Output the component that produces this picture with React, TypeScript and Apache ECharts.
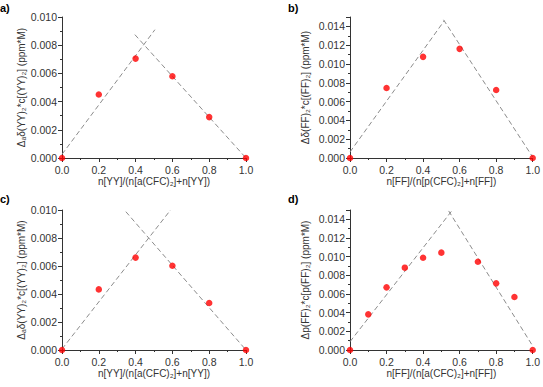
import React, { useEffect, useRef } from "react";
import * as echarts from "echarts";

// ---- data ----
const ptsA: number[][] = [[0, 0], [0.2, 0.0045], [0.4, 0.00705], [0.6, 0.0058], [0.8, 0.0029], [1.0, 0]];
const fitA1: number[][] = [[0, 0.00026], [0.505, 0.0091]];
const fitA2: number[][] = [[0.396, 0.00875], [1.0, 0]];

const ptsB: number[][] = [[0, 0], [0.2, 0.00745], [0.4, 0.01076], [0.6, 0.01161], [0.8, 0.00723], [1.0, 0]];
const fitB1: number[][] = [[0, 0.00064], [0.516, 0.0146]];
const fitB2: number[][] = [[0.512, 0.0147], [1.0, 0.0001]];

const ptsC: number[][] = [[0, 0], [0.2, 0.00433], [0.4, 0.0066], [0.6, 0.00602], [0.8, 0.00336], [1.0, 0]];
const fitC1: number[][] = [[0, 0.00007], [0.59, 0.01]];
const fitC2: number[][] = [[0.347, 0.00988], [1.0, 0]];

const ptsD: number[][] = [[0, 0], [0.1, 0.00382], [0.2, 0.00671], [0.3, 0.00882], [0.4, 0.00989], [0.5, 0.01043], [0.7, 0.00946], [0.8, 0.00714], [0.9, 0.00568], [1.0, 0]];
const fitD1: number[][] = [[0, 0.00089], [0.558, 0.01493]];
const fitD2: number[][] = [[0.54, 0.0149], [1.0, 0.00043]];

const panelLabels = ["a)", "b)", "c)", "d)"];
const xTitles = [
  "n[YY]/(n[a(CFC)₂]+n[YY])",
  "n[FF]/(n[p(CFC)₂]+n[FF])",
  "n[YY]/(n[a(CFC)₂]+n[YY])",
  "n[FF]/(n[a(CFC)₂]+n[FF])",
];
const yTitles = [
  "Δₐδ(YY)₂*c[(YY)₂] (ppm*M)",
  "Δδ(FF)₂*c[(FF)₂] (ppm*M)",
  "Δₐδ(YY)₂*c[(YY)₂] (ppm*M)",
  "Δp(FF)₂*c[p(FF)₂] (ppm*M)",
];
const yMax = [0.01, 0.015, 0.01, 0.015];

const FONT = "'Liberation Sans', Arial, sans-serif";
const TXT = "#333333";

export default function App() {
  const ref = useRef<HTMLDivElement>(null);
  useEffect(() => {
    if (!ref.current) return;
    const chart = echarts.init(ref.current, undefined, { renderer: "svg" });
    const grids = [
      { left: 62, top: 17, width: 184, height: 141 },
      { left: 350, top: 17, width: 185, height: 141 },
      { left: 62, top: 210, width: 184, height: 140 },
      { left: 350, top: 210, width: 185, height: 140 },
    ];
    const axisLine = { lineStyle: { color: "#333", width: 1 } };
    const xAxis = grids.map((_, i) => ({
      type: "value",
      gridIndex: i,
      min: 0,
      max: 1,
      interval: 0.2,
      axisLine: { ...axisLine, onZero: false },
      axisTick: { show: true, length: 4, lineStyle: { color: "#333" } },
      minorTick: { show: true, splitNumber: 2, length: 2, lineStyle: { color: "#333" } },
      splitLine: { show: false },
      axisLabel: { fontFamily: FONT, fontSize: 10.5, color: TXT, margin: 6, formatter: (v: number) => v.toFixed(1) },
      name: xTitles[i],
      nameLocation: "middle",
      nameGap: 18,
      nameTextStyle: { fontFamily: FONT, fontSize: 10, color: TXT },
    }));
    const yAxis = grids.map((_, i) => ({
      type: "value",
      gridIndex: i,
      min: 0,
      max: yMax[i],
      interval: 0.002,
      axisLine: { show: true, ...axisLine, onZero: false },
      axisTick: { show: true, length: 4, lineStyle: { color: "#333" } },
      minorTick: { show: true, splitNumber: 2, length: 2, lineStyle: { color: "#333" } },
      splitLine: { show: false },
      axisLabel: {
        fontFamily: FONT,
        fontSize: 10.5,
        color: TXT,
        margin: 5,
        formatter: (v: number) => (v > yMax[i] - 1e-9 && yMax[i] > 0.012 ? "" : v.toFixed(3)),
      },
      name: yTitles[i],
      nameLocation: "middle",
      nameGap: i % 2 === 0 ? 36 : 40,
      nameTextStyle: { fontFamily: FONT, fontSize: 10, color: TXT },
    }));
    const pts = [ptsA, ptsB, ptsC, ptsD];
    const fits = [[fitA1, fitA2], [fitB1, fitB2], [fitC1, fitC2], [fitD1, fitD2]];
    const series: any[] = [];
    fits.forEach((pair, i) => {
      pair.forEach((f) => {
        series.push({
          type: "line",
          xAxisIndex: i,
          yAxisIndex: i,
          data: f,
          symbol: "none",
          lineStyle: { color: "#8c8c8c", width: 1, type: [5, 3] },
          clip: false,
          silent: true,
        });
      });
    });
    pts.forEach((p, i) => {
      series.push({
        type: "scatter",
        xAxisIndex: i,
        yAxisIndex: i,
        data: p,
        symbol: "circle",
        symbolSize: 6.5,
        itemStyle: { color: "#ff0000" },
        clip: false,
        z: 5,
      });
    });
    const labelPos = [
      [0, 2],
      [288, 2],
      [0, 193],
      [288, 193],
    ];
    chart.setOption({
      animation: false,
      backgroundColor: "#ffffff",
      grid: grids,
      xAxis,
      yAxis,
      series,
      graphic: panelLabels.map((t, i) => ({
        type: "text",
        left: labelPos[i][0],
        top: labelPos[i][1],
        style: { text: t, fontFamily: FONT, fontSize: 11, fontWeight: "bold", fill: "#000" },
      })),
    });
    return () => chart.dispose();
  }, []);
  return (
    <div
      ref={ref}
      style={{ position: "fixed", left: 0, top: 0, width: 543, height: 387, background: "#fff" }}
    />
  );
}
